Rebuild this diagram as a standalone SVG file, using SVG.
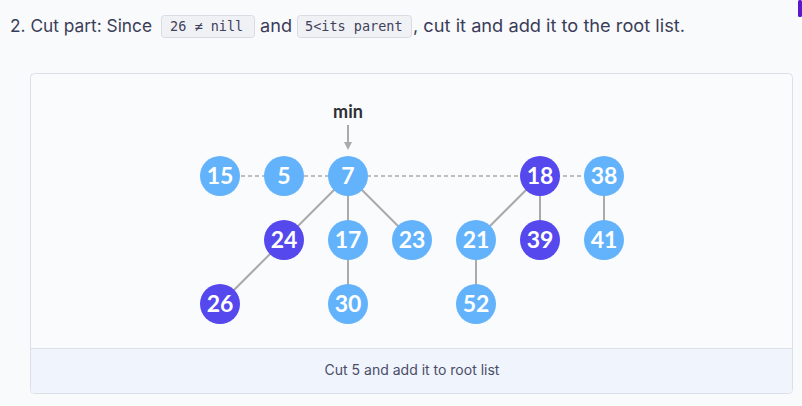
<svg xmlns="http://www.w3.org/2000/svg" width="802" height="406" viewBox="0 0 802 406">
<style>
.hdr{font-family:"Inter","Noto Sans","Liberation Sans",sans-serif;font-size:17.5px;fill:#3b3d58}
.code{font-family:"DejaVu Sans Mono","Liberation Mono",monospace;font-size:13.5px;fill:#40425c}
.cbox{fill:#f0f1f4;stroke:#d9dbe2;stroke-width:1}
.lb{fill:#62b3fb}
.dk{fill:#5549ee}
.nt{font-family:Lato,"Open Sans","Liberation Sans",sans-serif;font-weight:bold;font-size:23px;fill:#fff;text-anchor:middle}
.edge{stroke:#aaaaaa;stroke-width:2;fill:none}
.dash{stroke:#aaaaaa;stroke-width:1.5;stroke-dasharray:4 3;fill:none}
.cap{font-family:"Inter","Noto Sans","Liberation Sans",sans-serif;font-size:14px;fill:#4b4d68;text-anchor:middle}
</style>
<defs>
<marker id="ah" viewBox="0 0 10 10" refX="5" refY="5" markerWidth="4" markerHeight="4" orient="auto"><path d="M0,0 L10,5 L0,10 z" fill="#aaaaaa"/></marker>
</defs>
<rect width="802" height="406" fill="#f9fafc"/>
<rect x="798" y="0" width="4" height="17" rx="1.5" fill="#5a17cc"/>
<text class="hdr" x="10" y="32" textLength="142" lengthAdjust="spacingAndGlyphs">2. Cut part: Since</text>
<rect class="cbox" x="161.5" y="15.5" width="93" height="22" rx="3"/>
<text class="code" x="170" y="31">26 ≠ nill</text>
<text class="hdr" x="260" y="32" textLength="32" lengthAdjust="spacingAndGlyphs">and</text>
<rect class="cbox" x="297.5" y="15.5" width="114" height="22" rx="3"/>
<text class="code" x="305" y="31">5&lt;its parent</text>
<text class="hdr" x="413" y="32" textLength="272" lengthAdjust="spacingAndGlyphs">, cut it and add it to the root list.</text>
<rect x="30.5" y="73.5" width="762" height="320" rx="4" fill="#fafbfd" stroke="#dcdfe6"/>
<path d="M31,348.5 H792 V389.5 a3.5,3.5 0 0 1 -3.5,3.5 H34.5 a3.5,3.5 0 0 1 -3.5,-3.5 Z" fill="#f0f4fd"/>
<line x1="31" y1="348.5" x2="792" y2="348.5" stroke="#dcdfe6"/>
<text class="cap" x="412" y="375">Cut 5 and add it to root list</text>
<text x="348" y="118" font-family="Lato,'Open Sans','Liberation Sans',sans-serif" font-weight="bold" font-size="18" fill="#2f3033" text-anchor="middle">min</text>
<g id="connectors">
<line class="dash" x1="220" y1="176" x2="604" y2="176"/>
<line x1="348" y1="125" x2="348" y2="146" stroke="#aaaaaa" stroke-width="2" marker-end="url(#ah)"/>
<line class="edge" x1="348" y1="176" x2="284" y2="240"/>
<line class="edge" x1="348" y1="176" x2="348" y2="240"/>
<line class="edge" x1="348" y1="176" x2="412" y2="240"/>
<line class="edge" x1="284" y1="240" x2="220" y2="304"/>
<line class="edge" x1="348" y1="240" x2="348" y2="304"/>
<line class="edge" x1="540" y1="176" x2="476" y2="240"/>
<line class="edge" x1="540" y1="176" x2="540" y2="240"/>
<line class="edge" x1="476" y1="240" x2="476" y2="304"/>
<line class="edge" x1="604" y1="176" x2="604" y2="240"/>
</g>
<g id="n15"><circle class="lb" cx="220" cy="176" r="20"/><text class="nt" x="220" y="184">15</text></g>
<g id="n5"><circle class="lb" cx="284" cy="176" r="20"/><text class="nt" x="284" y="184">5</text></g>
<g id="n7"><circle class="lb" cx="348" cy="176" r="20"/><text class="nt" x="348" y="184">7</text></g>
<g id="n18"><circle class="dk" cx="540" cy="176" r="20"/><text class="nt" x="540" y="184">18</text></g>
<g id="n38"><circle class="lb" cx="604" cy="176" r="20"/><text class="nt" x="604" y="184">38</text></g>
<g id="n24"><circle class="dk" cx="284" cy="240" r="20"/><text class="nt" x="284" y="248">24</text></g>
<g id="n17"><circle class="lb" cx="348" cy="240" r="20"/><text class="nt" x="348" y="248">17</text></g>
<g id="n23"><circle class="lb" cx="412" cy="240" r="20"/><text class="nt" x="412" y="248">23</text></g>
<g id="n21"><circle class="lb" cx="476" cy="240" r="20"/><text class="nt" x="476" y="248">21</text></g>
<g id="n39"><circle class="dk" cx="540" cy="240" r="20"/><text class="nt" x="540" y="248">39</text></g>
<g id="n41"><circle class="lb" cx="604" cy="240" r="20"/><text class="nt" x="604" y="248">41</text></g>
<g id="n26"><circle class="dk" cx="220" cy="304" r="20"/><text class="nt" x="220" y="312">26</text></g>
<g id="n30"><circle class="lb" cx="348" cy="304" r="20"/><text class="nt" x="348" y="312">30</text></g>
<g id="n52"><circle class="lb" cx="476" cy="304" r="20"/><text class="nt" x="476" y="312">52</text></g>
</svg>
